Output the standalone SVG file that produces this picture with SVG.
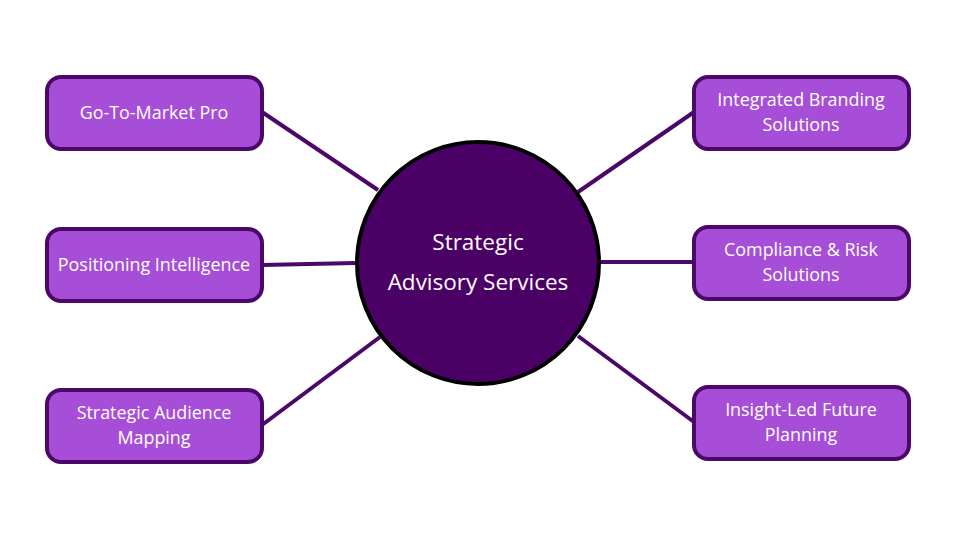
<svg xmlns="http://www.w3.org/2000/svg" width="956" height="540" viewBox="0 0 956 540">
<style>
.box{fill:#a64ed8;stroke:#4b0869;stroke-width:4}
.t{fill:#fff;font-family:"Open Sans","Noto Sans",sans-serif;font-size:17.9px;text-anchor:middle}
.c{stroke:#4b0869;stroke-width:4;fill:none}
</style>
<rect width="956" height="540" fill="#fff"/>
<g id="connectors">
<line class="c" x1="262" y1="112" x2="378" y2="190"/>
<line class="c" x1="262" y1="265" x2="356" y2="263"/>
<line class="c" x1="262" y1="425" x2="380" y2="337"/>
<line class="c" x1="694" y1="112" x2="578" y2="192"/>
<line class="c" x1="600" y1="262" x2="694" y2="262"/>
<line class="c" x1="578" y1="336" x2="694" y2="422"/>
</g>
<g id="center">
<circle cx="478" cy="263" r="121" fill="#4b0066" stroke="#000" stroke-width="4"/>
<text class="t" style="font-size:22.5px" x="478" y="250">Strategic</text>
<text class="t" style="font-size:22.5px" x="478" y="290">Advisory Services</text>
</g>
<g id="n1"><rect class="box" x="47" y="77" width="215" height="72" rx="14"/><text class="t" x="154" y="119">Go-To-Market Pro</text></g>
<g id="n2"><rect class="box" x="47" y="229" width="215" height="72" rx="14"/><text class="t" x="154" y="271">Positioning Intelligence</text></g>
<g id="n3"><rect class="box" x="47" y="390" width="215" height="72" rx="14"/><text class="t" x="154" y="419">Strategic Audience</text><text class="t" x="154" y="444">Mapping</text></g>
<g id="n4"><rect class="box" x="694" y="77" width="215" height="72" rx="14"/><text class="t" x="801" y="106">Integrated Branding</text><text class="t" x="801" y="131">Solutions</text></g>
<g id="n5"><rect class="box" x="694" y="227" width="215" height="72" rx="14"/><text class="t" x="801" y="256">Compliance &amp; Risk</text><text class="t" x="801" y="281">Solutions</text></g>
<g id="n6"><rect class="box" x="694" y="387" width="215" height="72" rx="14"/><text class="t" x="801" y="416">Insight-Led Future</text><text class="t" x="801" y="441">Planning</text></g>
</svg>
